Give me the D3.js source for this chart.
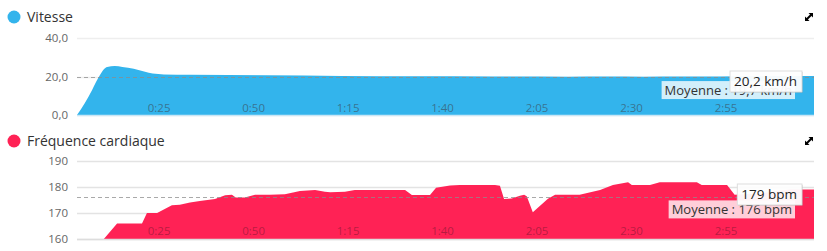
<!DOCTYPE html>
<html>
<head>
<meta charset="utf-8">
<script src="https://cdn.jsdelivr.net/npm/d3@7"></script>
<style>
  body { margin: 0; background: #fff; }
  svg { font-family: "Open Sans", sans-serif; display: block; }
</style>
</head>
<body>
<div id="chart"></div>
<script>
// time in minutes
var speedTime = [0, 2, 4, 5, 6, 7, 8, 10, 12, 15, 18, 20, 23, 30, 50, 70, 90, 110, 130, 140, 150, 160, 170, 180, 195];
var speedVal  = [0, 6, 13, 17, 20.5, 23.5, 25, 25.4, 25, 24, 22.5, 21.5, 21.1, 20.9, 20.6, 20.3, 20.1, 20, 19.9, 20, 19.9, 20, 20, 20.1, 20.2];

var hrTime = [0, 7.1, 10.6, 17.2, 18.5, 21.2, 25.1, 27.2, 29.9, 32.5, 36.5, 39.2, 41, 42, 44.4, 47.1, 51, 55, 59, 63, 65.6, 67, 70.9, 73.5, 74.9, 86.8, 88.6, 93.4, 95, 98.7, 101.3, 110.6, 111.9, 113, 115, 117.2, 118.3, 119, 120.6, 124.6, 126.5, 133, 138.4, 141.8, 145.8, 146.8, 151.6, 154.2, 164, 165.3, 172, 174, 180.7, 188.6, 195];
var hrVal  = [160, 160, 166, 166, 170, 170, 173, 173.2, 174, 174.6, 175.4, 176.8, 177, 176, 176, 177, 177, 177.2, 178.5, 178.8, 178.2, 178, 178.2, 178.8, 178.8, 178.8, 176.9, 176.9, 179.7, 180.6, 180.8, 180.8, 180.5, 175.4, 175.6, 176.6, 177, 176.4, 170.3, 175.5, 177, 177, 178.8, 180.8, 181.8, 180.8, 180.8, 181.8, 181.8, 180.8, 180.8, 177, 177.5, 179, 179];

var timeTicks = [25, 50, 75, 100, 125, 150, 175];
var speedTicks = [0, 20, 40];
var hrTicks = [160, 170, 180, 190];

var speedAvg = 19.7, speedLast = 20.2;
var hrAvg = 176, hrLast = 179;

var W = 827, H = 251;
var svg = d3.select('#chart').append('svg').attr('width', W).attr('height', H);

var x = d3.scaleLinear().domain([0, 195]).range([77, 814]);
var fmtTime = function(m) { return Math.floor(m / 60) + ':' + d3.format('02')(m % 60); };
var fmtComma = function(v) { return d3.format('.1f')(v).replace('.', ','); };

function panel(opts) {
    var g = svg.append('g');
    var y = d3.scaleLinear().domain(opts.domain).range(opts.range);

    // legend
    g.append('circle').attr('cx', 14).attr('cy', opts.legendY).attr('r', 6.5).attr('fill', opts.color);
    g.append('text').attr('x', 27).attr('y', opts.legendY).attr('dy', '0.35em')
        .attr('font-size', 14).attr('fill', '#333').text(opts.title);

    // expand icon
    var ic = g.append('g').attr('transform', 'translate(805,' + (opts.legendY - 4) + ')');
    ic.append('path').attr('d', 'M0,8 L0,3.5 L4.5,8 Z').attr('fill', '#000');
    ic.append('path').attr('d', 'M8,0 L3.5,0 L8,4.5 Z').attr('fill', '#000');
    ic.append('line').attr('x1', 1).attr('y1', 7).attr('x2', 7).attr('y2', 1).attr('stroke', '#000').attr('stroke-width', 2);

    // gridlines
    g.selectAll('line.grid').data(opts.ticks).enter().append('line')
        .attr('class', 'grid')
        .attr('x1', 77).attr('x2', 814)
        .attr('y1', function(d) { return Math.round(y(d)) + 0.5; })
        .attr('y2', function(d) { return Math.round(y(d)) + 0.5; })
        .attr('stroke', opts.gridColor).attr('stroke-width', 1.5);

    // y labels
    g.selectAll('text.ylab').data(opts.ticks).enter().append('text')
        .attr('class', 'ylab')
        .attr('x', 68).attr('y', function(d) { return y(d); }).attr('dy', '0.35em')
        .attr('text-anchor', 'end').attr('font-size', 11.5).attr('fill', '#666')
        .text(opts.yFormat);

    // area
    var pts = opts.time.map(function(t, i) { return [t, opts.values[i]]; });
    var area = d3.area()
        .x(function(d) { return x(d[0]); })
        .y0(y(opts.domain[0]))
        .y1(function(d) { return y(d[1]); })
        .curve(opts.curve);
    g.append('path').datum(pts).attr('d', area).attr('fill', opts.color);

    // baseline
    g.append('line').attr('x1', 77).attr('x2', 814)
        .attr('y1', y(opts.domain[0]) + 0.5).attr('y2', y(opts.domain[0]) + 0.5)
        .attr('stroke', opts.baseColor).attr('stroke-width', 1.5);

    // average dashed line
    g.append('line').attr('x1', 77).attr('x2', 814)
        .attr('y1', Math.round(y(opts.avg)) + 0.5).attr('y2', Math.round(y(opts.avg)) + 0.5)
        .attr('stroke', 'rgba(140,140,140,0.75)').attr('stroke-dasharray', '4,3');

    // x tick labels (inside the plot)
    g.selectAll('text.xlab').data(timeTicks).enter().append('text')
        .attr('class', 'xlab')
        .attr('x', function(d) { return x(d) - 1; })
        .attr('y', opts.xLabelY)
        .attr('text-anchor', 'end').attr('font-size', 11.5)
        .attr('fill', opts.xLabelColor)
        .text(fmtTime);

    // average label
    var ax = x(195) - 22, ay = y(opts.avg);
    var avgTxt = g.append('text').attr('x', ax).attr('y', ay + opts.avgDy)
        .attr('text-anchor', 'end').attr('font-size', 13).attr('fill', '#333')
        .text('Moyenne : ' + opts.avgText);
    var bb = avgTxt.node().getBBox();
    g.insert('rect', function() { return avgTxt.node(); })
        .attr('x', bb.x - 3).attr('y', bb.y).attr('width', bb.width + 6).attr('height', bb.height)
        .attr('fill', 'rgba(255,255,255,0.78)');

    // last value tooltip
    var lx = x(195) - 12, ly = opts.lastY;
    var lastTxt = g.append('text').attr('x', lx - 5).attr('y', ly)
        .attr('text-anchor', 'end').attr('font-size', 13.5).attr('fill', '#222')
        .text(opts.lastText);
    var lb = lastTxt.node().getBBox();
    g.insert('rect', function() { return lastTxt.node(); })
        .attr('x', lb.x - 4).attr('y', lb.y - 1).attr('width', lb.width + 9).attr('height', lb.height + 3)
        .attr('fill', 'rgba(0,0,0,0.12)').attr('transform', 'translate(1,1)');
    g.insert('rect', function() { return lastTxt.node(); })
        .attr('x', lb.x - 4).attr('y', lb.y - 1).attr('width', lb.width + 9).attr('height', lb.height + 3)
        .attr('fill', 'rgba(255,255,255,0.95)').attr('stroke', '#ddd');
}

panel({
    title: 'Vitesse', legendY: 17, color: '#33b4ec',
    domain: [0, 40], range: [115, 38], ticks: speedTicks,
    yFormat: fmtComma, time: speedTime, values: speedVal, curve: d3.curveMonotoneX,
    gridColor: '#eeeeee', baseColor: '#c9e6f5',
    avg: speedAvg, avgText: '19,7 km/h', avgDy: 18,
    lastText: '20,2 km/h', lastY: 86,
    xLabelY: 112, xLabelColor: 'rgba(60,70,80,0.6)'
});

panel({
    title: 'Fréquence cardiaque', legendY: 141, color: '#ff2255',
    domain: [160, 190], range: [239, 161], ticks: hrTicks,
    yFormat: function(d) { return d; }, time: hrTime, values: hrVal, curve: d3.curveLinear,
    gridColor: '#e3e3e3', baseColor: '#dddddd',
    avg: hrAvg, avgText: '176 bpm', avgDy: 17,
    lastText: '179 bpm', lastY: 199,
    xLabelY: 235, xLabelColor: 'rgba(90,20,40,0.45)'
});
</script>
</body>
</html>
